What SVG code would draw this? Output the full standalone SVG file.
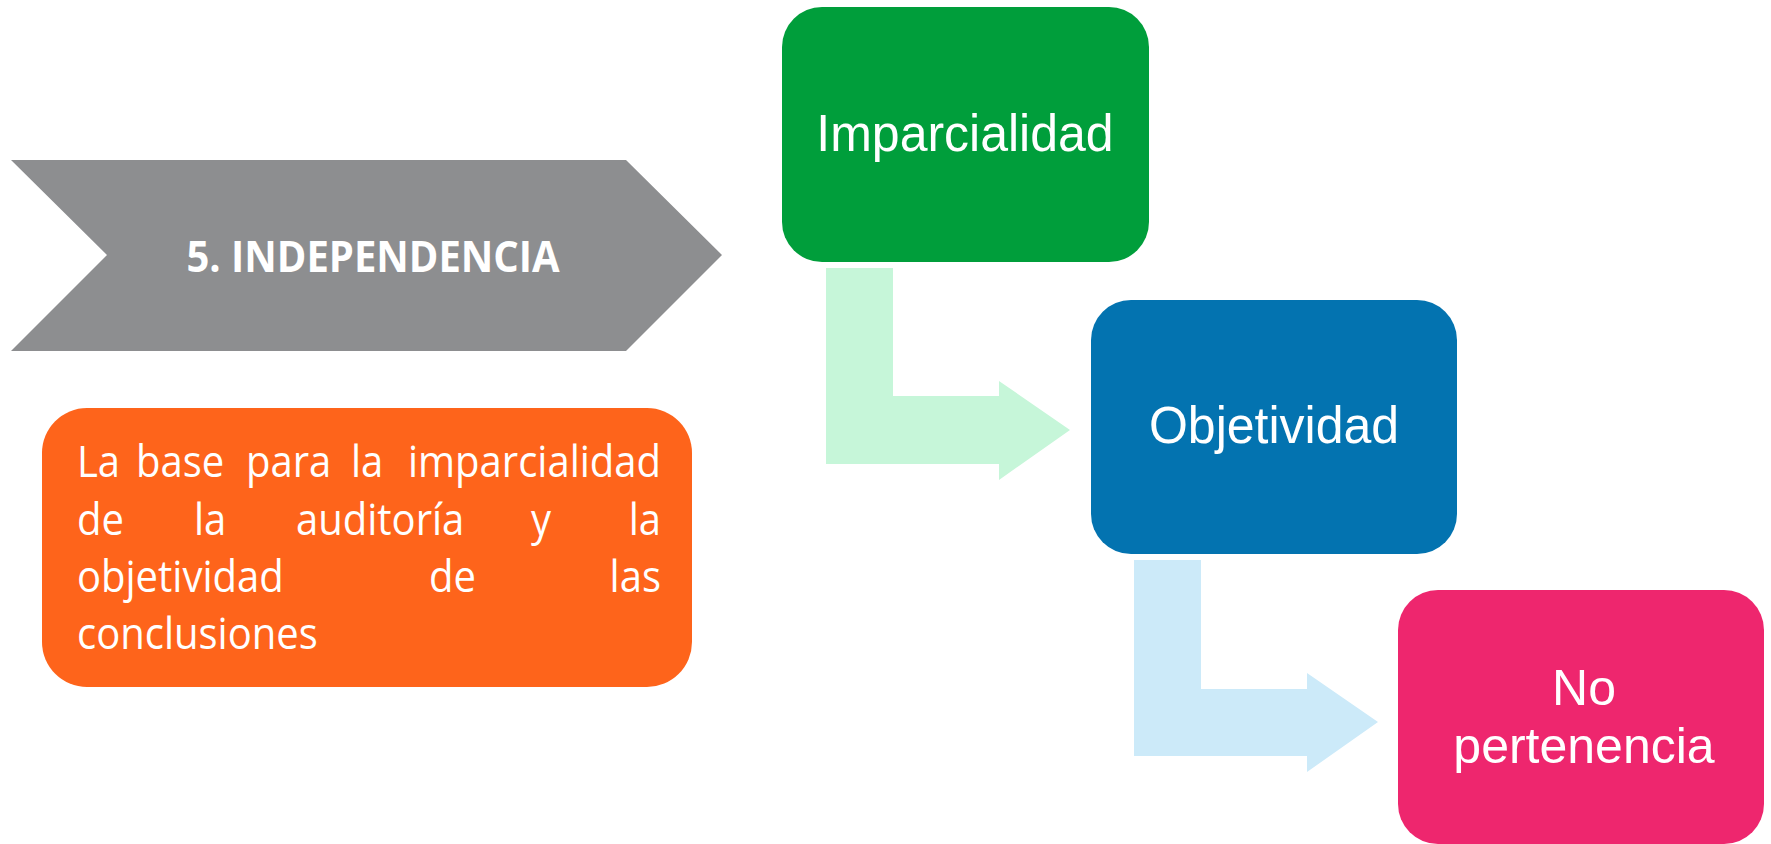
<svg xmlns="http://www.w3.org/2000/svg" width="1771" height="844" viewBox="0 0 1771 844">
<style>
.box-text{font-family:"Liberation Sans",Arial,sans-serif;font-size:50px;fill:#ffffff;text-anchor:middle}
.body-text{font-family:"Open Sans","DejaVu Sans",sans-serif;font-size:40px;fill:#ffffff}
.title-text{font-family:"Open Sans","DejaVu Sans",sans-serif;font-size:40px;font-weight:bold;fill:#ffffff;text-anchor:middle}
</style>
<rect width="1771" height="844" fill="#ffffff"/>
<g id="connectors">
<path id="arrow-green" d="M826,268 H893 V396 H999 V381 L1070,430 L999,480 V464 H826 Z" fill="#C6F6D9"/>
<path id="arrow-blue" d="M1134,560 H1201 V689 H1307 V673 L1378,722 L1307,772 V756 H1134 Z" fill="#CCEAF9"/>
</g>
<g id="node-independencia">
<path d="M11,160 H626 L722,255 L626,351 H11 L107,255 Z" fill="#8D8E90"/>
<text class="title-text" x="373" y="0" transform="translate(0,272) scale(1,1.06)">5. INDEPENDENCIA</text>
</g>
<g id="node-base">
<rect x="42" y="408" width="650" height="279" rx="45" ry="45" fill="#FE641B"/>
<text class="body-text" y="0" transform="translate(0,477) scale(1,1.08)"><tspan x="77">La</tspan><tspan x="136">base</tspan><tspan x="246">para</tspan><tspan x="351">la</tspan><tspan x="661" text-anchor="end">imparcialidad</tspan></text>
<text class="body-text" y="0" transform="translate(0,535) scale(1,1.08)"><tspan x="77">de</tspan><tspan x="194">la</tspan><tspan x="296">auditoría</tspan><tspan x="531">y</tspan><tspan x="661" text-anchor="end">la</tspan></text>
<text class="body-text" y="0" transform="translate(0,592) scale(1,1.08)"><tspan x="77">objetividad</tspan><tspan x="429">de</tspan><tspan x="661" text-anchor="end">las</tspan></text>
<text class="body-text" y="0" transform="translate(0,649) scale(1,1.08)"><tspan x="77">conclusiones</tspan></text>
</g>
<g id="node-imparcialidad">
<rect x="782" y="7" width="367" height="255" rx="40" ry="40" fill="#009E3B"/>
<text class="box-text" x="965" y="0" transform="translate(0,151) scale(1,1.05)">Imparcialidad</text>
</g>
<g id="node-objetividad">
<rect x="1091" y="300" width="366" height="254" rx="40" ry="40" fill="#0373B0"/>
<text class="box-text" x="1274" y="0" transform="translate(0,443) scale(1,1.05)">Objetividad</text>
</g>
<g id="node-pertenencia">
<rect x="1398" y="590" width="366" height="254" rx="40" ry="40" fill="#EE266E"/>
<text class="box-text"><tspan x="1584" y="705">No</tspan><tspan x="1584" y="763">pertenencia</tspan></text>
</g>
</svg>
